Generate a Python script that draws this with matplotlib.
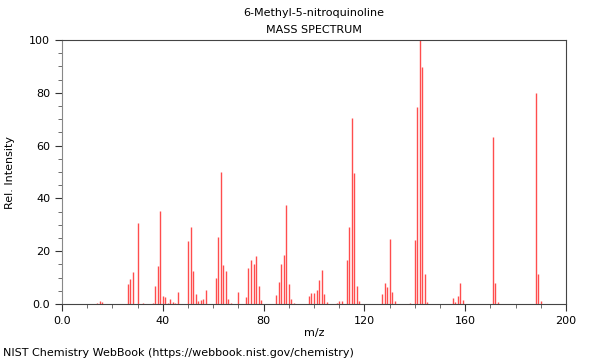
import matplotlib
matplotlib.use("Agg")
import matplotlib.pyplot as plt
from matplotlib.ticker import MultipleLocator, FuncFormatter

mz = [14, 15, 16, 26, 27, 28, 30, 32, 36, 37, 38, 39, 40, 41, 42, 43, 44, 45, 46,
      50, 51, 52, 53, 54, 55, 56, 57, 61, 62, 63, 64, 65, 66, 67, 70,
      73, 74, 75, 76, 77, 78, 79, 85, 86, 87, 88, 89, 90, 91, 92,
      98, 99, 100, 101, 102, 103, 104, 105, 109, 110, 111,
      113, 114, 115, 116, 117, 118, 127, 128, 129, 130, 131, 132,
      138, 140, 141, 142, 143, 144, 145, 155, 156, 157, 158, 159,
      171, 172, 173, 188, 189, 190]
intensity = [0.5, 1.1, 0.7, 7.5, 9.3, 12.1, 30.7, 0.3, 0.4, 6.8, 14.3, 35.2, 3.0, 2.6, 0.5, 1.9, 0.8, 0.5, 4.4,
             24.0, 29.0, 12.6, 3.8, 1.1, 1.4, 1.9, 5.2, 9.8, 25.4, 49.9, 14.8, 12.4, 1.9, 0.3, 4.7,
             2.6, 13.8, 16.7, 15.2, 18.1, 6.8, 1.5, 3.4, 8.2, 15.0, 18.6, 37.5, 7.6, 1.9, 0.5,
             3.2, 4.0, 4.0, 5.2, 9.1, 13.0, 3.7, 0.9, 0.5, 1.0, 1.3,
             16.7, 29.3, 70.3, 49.7, 6.8, 1.1, 3.7, 8.0, 6.4, 24.5, 4.4, 1.0,
             0.5, 24.1, 74.7, 100.0, 89.6, 11.2, 0.9, 2.3, 0.7, 3.2, 8.1, 1.4,
             63.3, 8.1, 0.7, 79.9, 11.4, 1.1]

title_name = "6-Methyl-5-nitroquinoline"
title_kind = "MASS SPECTRUM"
footer = "NIST Chemistry WebBook (https://webbook.nist.gov/chemistry)"

plt.rcParams['font.family'] = ['DejaVu Sans']
fig = plt.figure(figsize=(6, 3.6), dpi=100)
ax = fig.add_axes([62/600, 56/360, 504/600, 264/360])

ax.vlines(mz, 0, intensity, colors='#ff4d4d', linewidth=1.0)

ax.set_xlim(0, 200)
ax.set_ylim(0, 100)
ax.xaxis.set_major_locator(MultipleLocator(40))
ax.xaxis.set_minor_locator(MultipleLocator(10))
ax.yaxis.set_major_locator(MultipleLocator(20))
ax.yaxis.set_minor_locator(MultipleLocator(5))
fmt = FuncFormatter(lambda v, p: "0.0" if v == 0 else f"{int(v)}")
ax.xaxis.set_major_formatter(fmt)
ax.yaxis.set_major_formatter(fmt)
ax.tick_params(axis='both', which='major', length=5, width=0.8, labelsize=8, color='#333333')
ax.tick_params(axis='both', which='minor', length=3, width=0.6, color='#555555')
for s in ax.spines.values():
    s.set_color('#444444')
    s.set_linewidth(0.8)
ax.spines['left'].set_color('#888888')

fig.text(314/600, 1 - 333/360, "m/z", ha='center', va='center', fontsize=8)
fig.text(10/600, 1 - 172/360, "Rel. Intensity", ha='center', va='center', fontsize=8, rotation=90)

fig.text(314/600, 1 - 13/360, title_name, ha='center', va='center', fontsize=8)
fig.text(314/600, 1 - 30/360, title_kind, ha='center', va='center', fontsize=8)
fig.text(3/600, 1 - 353/360, footer, ha='left', va='center', fontsize=8)

fig.savefig("out.png", dpi=100)
